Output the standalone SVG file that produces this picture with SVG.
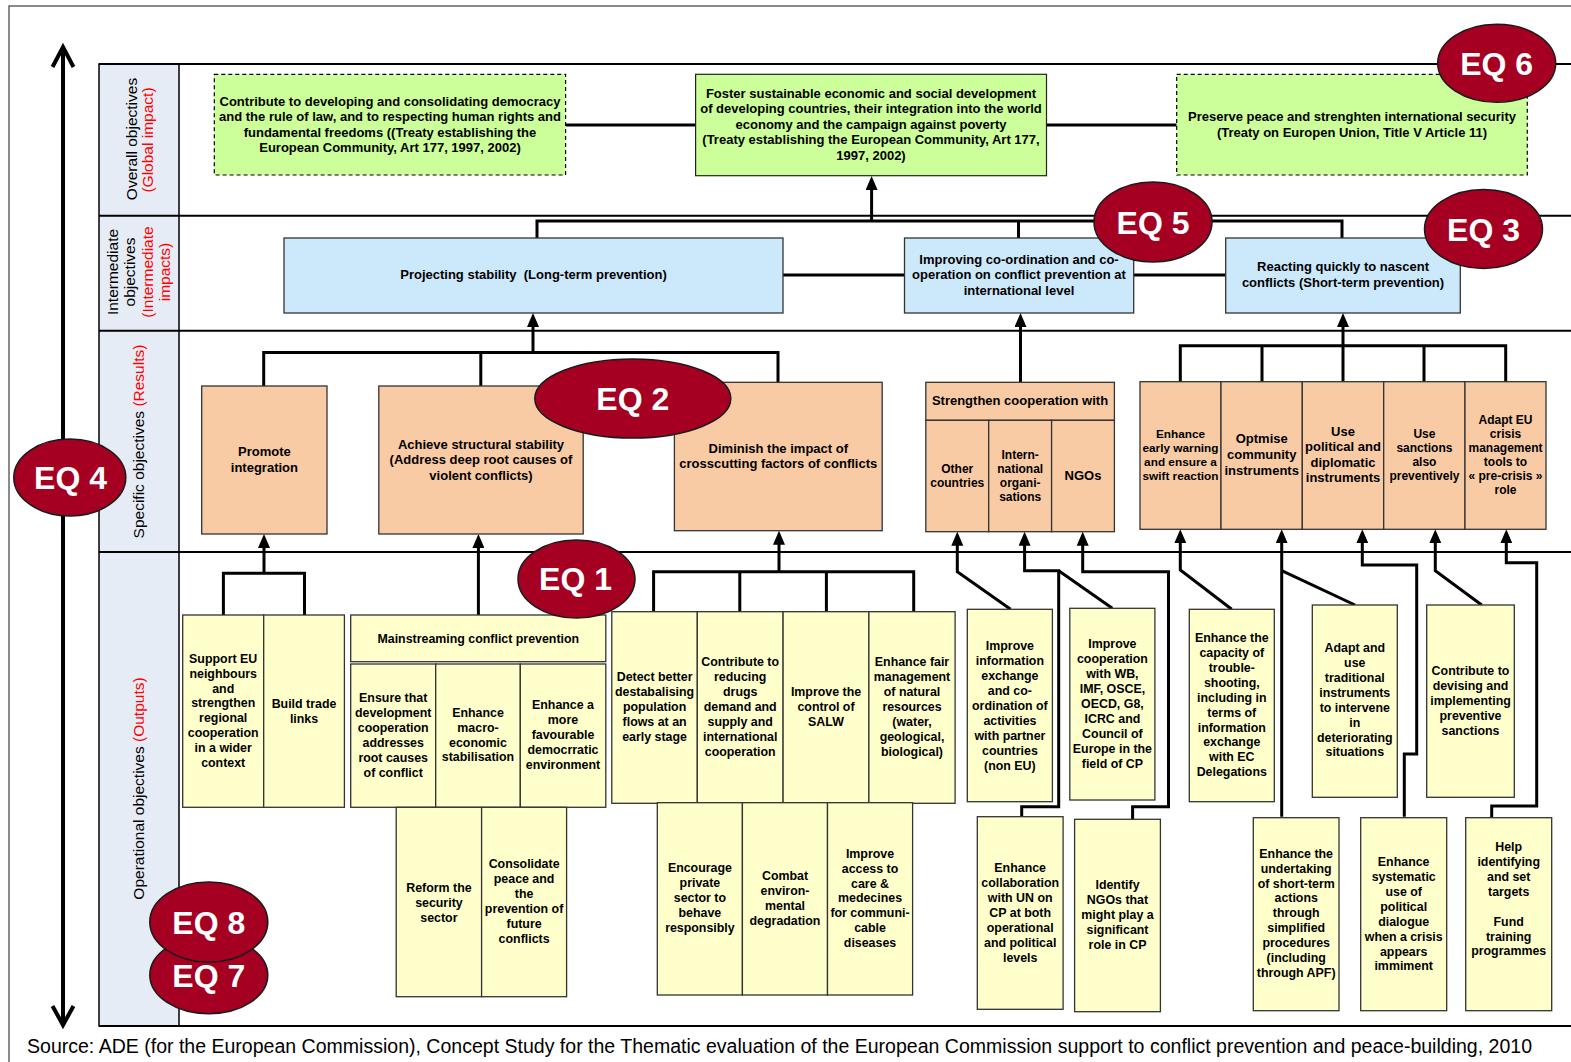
<svg xmlns="http://www.w3.org/2000/svg" width="1571" height="1062" viewBox="0 0 1571 1062">
<style>
  text { font-family: "Liberation Sans", Arial, sans-serif; fill: #000; }
  .b { font-weight: bold; font-size: 12.4px; text-anchor: middle; }
  .m { font-weight: bold; font-size: 13px; text-anchor: middle; }
  .s { font-weight: bold; font-size: 12px; text-anchor: middle; }
  .lab { font-size: 15.5px; text-anchor: middle; }
  .red { fill: #ff0000; }
  .row { stroke: #000; stroke-width: 2; fill: none; }
  .green { fill: #ccff99; stroke: #222; stroke-width: 1.2; }
  .dash { stroke: #000; stroke-dasharray: 4 3; }
  .blue { fill: #cce9fb; stroke: #333; stroke-width: 1.3; }
  .peach { fill: #f9cba5; stroke: #333; stroke-width: 1.3; }
  .yel { fill: #ffffcc; stroke: #333; stroke-width: 1.3; }
  .eq { fill: #a50021; stroke: #1a1a1a; stroke-width: 1.5; }
  .eqt { fill: #fff; font-weight: bold; font-size: 32px; text-anchor: middle; }
  .conn { fill: none; stroke: #000; stroke-width: 3; }
  .arr { fill: none; stroke: #000; stroke-width: 3; marker-end: url(#ah); }
</style>
<defs>
  <marker id="ah" viewBox="0 0 14 12" refX="4" refY="6" markerWidth="14" markerHeight="12" markerUnits="userSpaceOnUse" orient="auto">
    <path d="M0,0 L14,6 L0,12 z" fill="#000"/>
  </marker>
</defs>

<rect width="1571" height="1062" fill="#fff"/>

<!-- outer frame -->
<path d="M1580,6 H9 V1070" fill="none" stroke="#666" stroke-width="1.5"/>

<!-- level axis (double arrow) -->
<g id="axis">
  <path d="M63,50 V1022" stroke="#000" stroke-width="4" fill="none"/>
  <path d="M52.5,67 L63,47 L73.5,67" stroke="#000" stroke-width="4" fill="none" stroke-linejoin="miter"/>
  <path d="M52.5,1006 L63,1025 L73.5,1006" stroke="#000" stroke-width="4" fill="none"/>
</g>

<!-- level labels column and row separators -->
<g id="levels">
  <rect x="99" y="64" width="80" height="962" fill="#e6ecf6" stroke="#000" stroke-width="1.5"/>
  <path class="row" d="M99,64 H1575 M99,215.7 H1575 M99,330.7 H1575 M99,552 H1575 M99,1026 H1575"/>
  <text class="lab" transform="translate(137,139) rotate(-90)">Overall objectives</text>
  <text class="lab red" transform="translate(153,140) rotate(-90)">(Global impact)</text>
  <text class="lab" transform="translate(118,272) rotate(-90)">Intermediate</text>
  <text class="lab" transform="translate(135,272) rotate(-90)">objectives</text>
  <text class="lab red" transform="translate(153,272) rotate(-90)">(Intermediate</text>
  <text class="lab red" transform="translate(170,272) rotate(-90)">impacts)</text>
  <text class="lab" transform="translate(144,441.5) rotate(-90)">Specific objectives <tspan class="red">(Results)</tspan></text>
  <text class="lab" transform="translate(144,788.5) rotate(-90)">Operational objectives <tspan class="red">(Outputs)</tspan></text>
</g>

<!-- connectors -->
<g id="connectors">
  <!-- overall row -->
  <path class="conn" d="M565.6,125 H695.6 M1046.5,125 H1176.7"/>
  <path class="conn" d="M537,238 V221 H1342 V238 M1018.5,221 V238"/>
  <path class="arr" d="M871.6,221 V186"/>
  <!-- intermediate row -->
  <path class="conn" d="M783,275 H904.5 M1133.7,275 H1225.7"/>
  <!-- specific to intermediate -->
  <path class="conn" d="M263.7,386 V352.5 H778 V382.3 M480.8,352.5 V386"/>
  <path class="arr" d="M533,352.5 V323"/>
  <path class="arr" d="M1020.5,382.3 V323"/>
  <path class="conn" d="M1180.3,381.7 V345.7 H1505.7 V381.7 M1262,345.7 V381.7 M1424,345.7 V381.7"/>
  <path class="arr" d="M1343,381.7 V323"/>
  <!-- operational to specific -->
  <path class="conn" d="M223.4,615 V573.3 H304.5 V615"/>
  <path class="arr" d="M264,573.3 V544"/>
  <path class="arr" d="M478.4,615 V544"/>
  <path class="conn" d="M653.6,611.7 V571.7 H913.7 V611.7 M739.8,571.7 V611.7 M826.4,571.7 V611.7"/>
  <path class="arr" d="M779,571.7 V540.7"/>
  <path class="arr" d="M1010.6,609.3 L957.3,571.7 V541.7"/>
  <path class="conn" d="M1112.3,608.3 L1058.7,570.7"/>
  <path class="arr" d="M1021.7,816.7 V806.7 H1058.7 V570.7 H1024.6 V541.7"/>
  <path class="arr" d="M1132.6,819.3 V806.7 H1168.5 V571.7 H1082.7 V541.7"/>
  <path class="arr" d="M1231.7,609.3 L1180.3,570 V539.3"/>
  <path class="conn" d="M1355,605 L1281.7,570.7"/>
  <path class="arr" d="M1281.7,816.7 V539.3"/>
  <path class="arr" d="M1404.3,816.7 V754 H1416.7 V565 H1362.3 V539.3"/>
  <path class="arr" d="M1481.7,605 L1435.3,570.7 V539.3"/>
  <path class="arr" d="M1491.7,818.3 V806 H1536.7 V562.7 H1506.3 V539.3"/>
</g>

<!-- overall objectives -->
<g id="ov-democracy">
  <rect class="green dash" x="214.3" y="74.3" width="351.3" height="100.7"/>
  <text class="m" x="390" y="105.6"><tspan x="390">Contribute to developing and consolidating democracy</tspan><tspan x="390" dy="15.5">and the rule of law, and to respecting human rights and</tspan><tspan x="390" dy="15.5">fundamental freedoms ((Treaty establishing the</tspan><tspan x="390" dy="15.5">European Community, Art 177, 1997, 2002)</tspan></text>
</g>
<g id="ov-development">
  <rect class="green" x="695.6" y="74.3" width="350.9" height="101.4"/>
  <text class="m" x="871" y="97.9"><tspan x="871">Foster sustainable economic and social development</tspan><tspan x="871" dy="15.5">of developing countries, their integration into the world</tspan><tspan x="871" dy="15.5">economy and the campaign against poverty</tspan><tspan x="871" dy="15.5">(Treaty establishing the European Community, Art 177,</tspan><tspan x="871" dy="15.5">1997, 2002)</tspan></text>
</g>
<g id="ov-peace">
  <rect class="green dash" x="1176.7" y="74.3" width="350.6" height="100.7"/>
  <text class="m" x="1352" y="120.9"><tspan x="1352">Preserve peace and strenghten international security</tspan><tspan x="1352" dy="16">(Treaty on Europen Union, Title V Article 11)</tspan></text>
</g>

<!-- intermediate objectives -->
<g id="int-longterm">
  <rect class="blue" x="284" y="238" width="499" height="75"/>
  <text class="m" x="533.5" y="278.9">Projecting stability&#160; (Long-term prevention)</text>
</g>
<g id="int-coordination">
  <rect class="blue" x="904.5" y="238" width="229.2" height="75"/>
  <text class="m" x="1019" y="263.6"><tspan x="1019">Improving co-ordination and co-</tspan><tspan x="1019" dy="15.5">operation on conflict prevention at</tspan><tspan x="1019" dy="15.5">international level</tspan></text>
</g>
<g id="int-shortterm">
  <rect class="blue" x="1225.7" y="238" width="234.6" height="75"/>
  <text class="m" x="1343" y="271.3"><tspan x="1343">Reacting quickly to nascent</tspan><tspan x="1343" dy="15.6">conflicts (Short-term prevention)</tspan></text>
</g>

<!-- specific objectives -->
<g id="sp-integration">
  <rect class="peach" x="201.7" y="386" width="125.3" height="148"/>
  <text class="m" x="264.4" y="455.6"><tspan x="264.4">Promote</tspan><tspan x="264.4" dy="16">integration</tspan></text>
</g>
<g id="sp-structural">
  <rect class="peach" x="378.8" y="386" width="204.4" height="148"/>
  <text class="m" x="481" y="448.9"><tspan x="481">Achieve structural stability</tspan><tspan x="481" dy="15.5">(Address deep root causes of</tspan><tspan x="481" dy="15.5">violent conflicts)</tspan></text>
</g>
<g id="sp-crosscutting">
  <rect class="peach" x="674.4" y="382.3" width="207.8" height="148.4"/>
  <text class="m" x="778.3" y="452.9"><tspan x="778.3">Diminish the impact of</tspan><tspan x="778.3" dy="15">crosscutting factors of conflicts</tspan></text>
</g>
<g id="sp-cooperation">
  <rect class="peach" x="925.8" y="382.3" width="188.6" height="38"/>
  <rect class="peach" x="925.8" y="420.3" width="62.9" height="111.4"/>
  <rect class="peach" x="988.7" y="420.3" width="62.9" height="111.4"/>
  <rect class="peach" x="1051.6" y="420.3" width="62.8" height="111.4"/>
  <text class="m" x="1020" y="405.3">Strengthen cooperation with</text>
  <text class="s" x="957.3" y="472.6"><tspan x="957.3">Other</tspan><tspan x="957.3" dy="14.7">countries</tspan></text>
  <text class="s" x="1020.2" y="459.3"><tspan x="1020.2">Intern-</tspan><tspan x="1020.2" dy="13.8">national</tspan><tspan x="1020.2" dy="13.8">organi-</tspan><tspan x="1020.2" dy="13.8">sations</tspan></text>
  <text class="m" x="1083" y="480.3">NGOs</text>
</g>
<g id="sp-shortterm">
  <rect class="peach" x="1140" y="381.7" width="81" height="147.6"/>
  <rect class="peach" x="1221" y="381.7" width="81.3" height="147.6"/>
  <rect class="peach" x="1302.3" y="381.7" width="81.4" height="147.6"/>
  <rect class="peach" x="1383.7" y="381.7" width="81.3" height="147.6"/>
  <rect class="peach" x="1465" y="381.7" width="81" height="147.6"/>
  <text class="s" style="font-size:11.8px" x="1180.5" y="438"><tspan x="1180.5">Enhance</tspan><tspan x="1180.5" dy="14">early warning</tspan><tspan x="1180.5" dy="14">and ensure a</tspan><tspan x="1180.5" dy="14">swift reaction</tspan></text>
  <text class="m" x="1261.7" y="442.9"><tspan x="1261.7">Optmise</tspan><tspan x="1261.7" dy="15.9">community</tspan><tspan x="1261.7" dy="15.9">instruments</tspan></text>
  <text class="m" x="1343" y="435.6"><tspan x="1343">Use</tspan><tspan x="1343" dy="15.6">political and</tspan><tspan x="1343" dy="15.6">diplomatic</tspan><tspan x="1343" dy="15.6">instruments</tspan></text>
  <text class="s" x="1424.4" y="438"><tspan x="1424.4">Use</tspan><tspan x="1424.4" dy="14.1">sanctions</tspan><tspan x="1424.4" dy="14.1">also</tspan><tspan x="1424.4" dy="14.1">preventively</tspan></text>
  <text class="s" x="1505.5" y="423.6"><tspan x="1505.5">Adapt EU</tspan><tspan x="1505.5" dy="14.1">crisis</tspan><tspan x="1505.5" dy="14.1">management</tspan><tspan x="1505.5" dy="14.1">tools to</tspan><tspan x="1505.5" dy="14.1">« pre-crisis »</tspan><tspan x="1505.5" dy="14.1">role</tspan></text>
</g>

<!-- operational objectives -->
<g id="op-neighbours">
  <rect class="yel" x="182.7" y="615" width="81" height="192.3"/>
  <text class="b" x="223.2" y="662.7"><tspan x="223.2">Support EU</tspan><tspan x="223.2" dy="14.9">neighbours</tspan><tspan x="223.2" dy="14.9">and</tspan><tspan x="223.2" dy="14.9">strengthen</tspan><tspan x="223.2" dy="14.9">regional</tspan><tspan x="223.2" dy="14.9">cooperation</tspan><tspan x="223.2" dy="14.9">in a wider</tspan><tspan x="223.2" dy="14.9">context</tspan></text>
</g>
<g id="op-trade">
  <rect class="yel" x="263.7" y="615" width="80.7" height="192.3"/>
  <text class="b" x="304" y="707.7"><tspan x="304">Build trade</tspan><tspan x="304" dy="14.9">links</tspan></text>
</g>
<g id="op-mainstreaming">
  <rect class="yel" x="350.7" y="615" width="255.1" height="46.7"/>
  <text class="b" x="478.3" y="642.7">Mainstreaming conflict prevention</text>
</g>
<g id="op-development">
  <rect class="yel" x="350.7" y="664" width="85" height="143.3"/>
  <text class="b" x="393.2" y="702.1"><tspan x="393.2">Ensure that</tspan><tspan x="393.2" dy="14.9">development</tspan><tspan x="393.2" dy="14.9">cooperation</tspan><tspan x="393.2" dy="14.9">addresses</tspan><tspan x="393.2" dy="14.9">root causes</tspan><tspan x="393.2" dy="14.9">of conflict</tspan></text>
</g>
<g id="op-macro">
  <rect class="yel" x="435.7" y="664" width="84.6" height="143.3"/>
  <text class="b" x="478" y="716.7"><tspan x="478">Enhance</tspan><tspan x="478" dy="14.9">macro-</tspan><tspan x="478" dy="14.9">economic</tspan><tspan x="478" dy="14.9">stabilisation</tspan></text>
</g>
<g id="op-democratic">
  <rect class="yel" x="520.3" y="664" width="85.5" height="143.3"/>
  <text class="b" x="563" y="709.4"><tspan x="563">Enhance a</tspan><tspan x="563" dy="14.9">more</tspan><tspan x="563" dy="14.9">favourable</tspan><tspan x="563" dy="14.9">democrratic</tspan><tspan x="563" dy="14.9">environment</tspan></text>
</g>
<g id="op-security">
  <rect class="yel" x="396.2" y="807.3" width="85.4" height="189.4"/>
  <text class="b" x="438.9" y="891.7"><tspan x="438.9">Reform the</tspan><tspan x="438.9" dy="14.9">security</tspan><tspan x="438.9" dy="14.9">sector</tspan></text>
</g>
<g id="op-peace">
  <rect class="yel" x="481.6" y="807.3" width="85" height="189.4"/>
  <text class="b" x="524.1" y="868.4"><tspan x="524.1">Consolidate</tspan><tspan x="524.1" dy="14.9">peace and</tspan><tspan x="524.1" dy="14.9">the</tspan><tspan x="524.1" dy="14.9">prevention of</tspan><tspan x="524.1" dy="14.9">future</tspan><tspan x="524.1" dy="14.9">conflicts</tspan></text>
</g>
<g id="op-population">
  <rect class="yel" x="611.8" y="611.7" width="85.5" height="191.6"/>
  <text class="b" x="654.6" y="681.1"><tspan x="654.6">Detect better</tspan><tspan x="654.6" dy="14.9">destabalising</tspan><tspan x="654.6" dy="14.9">population</tspan><tspan x="654.6" dy="14.9">flows at an</tspan><tspan x="654.6" dy="14.9">early stage</tspan></text>
</g>
<g id="op-drugs">
  <rect class="yel" x="697.3" y="611.7" width="85.8" height="191.6"/>
  <text class="b" x="740.2" y="666.1"><tspan x="740.2">Contribute to</tspan><tspan x="740.2" dy="14.9">reducing</tspan><tspan x="740.2" dy="14.9">drugs</tspan><tspan x="740.2" dy="14.9">demand and</tspan><tspan x="740.2" dy="14.9">supply and</tspan><tspan x="740.2" dy="14.9">international</tspan><tspan x="740.2" dy="14.9">cooperation</tspan></text>
</g>
<g id="op-salw">
  <rect class="yel" x="783.1" y="611.7" width="85.8" height="191.6"/>
  <text class="b" x="826" y="696.1"><tspan x="826">Improve the</tspan><tspan x="826" dy="14.9">control of</tspan><tspan x="826" dy="14.9">SALW</tspan></text>
</g>
<g id="op-resources">
  <rect class="yel" x="868.9" y="611.7" width="86.2" height="191.6"/>
  <text class="b" x="912" y="666.1"><tspan x="912">Enhance fair</tspan><tspan x="912" dy="14.9">management</tspan><tspan x="912" dy="14.9">of natural</tspan><tspan x="912" dy="14.9">resources</tspan><tspan x="912" dy="14.9">(water,</tspan><tspan x="912" dy="14.9">geological,</tspan><tspan x="912" dy="14.9">biological)</tspan></text>
</g>
<g id="op-private">
  <rect class="yel" x="657.3" y="802.7" width="85.1" height="192.3"/>
  <text class="b" x="699.9" y="872.1"><tspan x="699.9">Encourage</tspan><tspan x="699.9" dy="14.9">private</tspan><tspan x="699.9" dy="14.9">sector to</tspan><tspan x="699.9" dy="14.9">behave</tspan><tspan x="699.9" dy="14.9">responsibly</tspan></text>
</g>
<g id="op-environment">
  <rect class="yel" x="742.4" y="802.7" width="85.1" height="192.3"/>
  <text class="b" x="785" y="880.4"><tspan x="785">Combat</tspan><tspan x="785" dy="14.9">environ-</tspan><tspan x="785" dy="14.9">mental</tspan><tspan x="785" dy="14.9">degradation</tspan></text>
</g>
<g id="op-health">
  <rect class="yel" x="827.5" y="802.7" width="85.1" height="192.3"/>
  <text class="b" x="870" y="857.7"><tspan x="870">Improve</tspan><tspan x="870" dy="14.9">access to</tspan><tspan x="870" dy="14.9">care &amp;</tspan><tspan x="870" dy="14.9">medecines</tspan><tspan x="870" dy="14.9">for communi-</tspan><tspan x="870" dy="14.9">cable</tspan><tspan x="870" dy="14.9">diseases</tspan></text>
</g>
<g id="op-information">
  <rect class="yel" x="967.3" y="609.3" width="85.1" height="192.4"/>
  <text class="b" x="1009.9" y="650.4"><tspan x="1009.9">Improve</tspan><tspan x="1009.9" dy="14.9">information</tspan><tspan x="1009.9" dy="14.9">exchange</tspan><tspan x="1009.9" dy="14.9">and co-</tspan><tspan x="1009.9" dy="14.9">ordination of</tspan><tspan x="1009.9" dy="14.9">activities</tspan><tspan x="1009.9" dy="14.9">with partner</tspan><tspan x="1009.9" dy="14.9">countries</tspan><tspan x="1009.9" dy="14.9">(non EU)</tspan></text>
</g>
<g id="op-organisations">
  <rect class="yel" x="1069.8" y="608.3" width="85.1" height="191.7"/>
  <text class="b" x="1112.4" y="648.4"><tspan x="1112.4">Improve</tspan><tspan x="1112.4" dy="14.9">cooperation</tspan><tspan x="1112.4" dy="14.9">with WB,</tspan><tspan x="1112.4" dy="14.9">IMF, OSCE,</tspan><tspan x="1112.4" dy="14.9">OECD, G8,</tspan><tspan x="1112.4" dy="14.9">ICRC and</tspan><tspan x="1112.4" dy="14.9">Council of</tspan><tspan x="1112.4" dy="14.9">Europe in the</tspan><tspan x="1112.4" dy="14.9">field of CP</tspan></text>
</g>
<g id="op-un">
  <rect class="yel" x="977.3" y="816.7" width="85.8" height="192.6"/>
  <text class="b" x="1020.2" y="872.1"><tspan x="1020.2">Enhance</tspan><tspan x="1020.2" dy="14.9">collaboration</tspan><tspan x="1020.2" dy="14.9">with UN on</tspan><tspan x="1020.2" dy="14.9">CP at both</tspan><tspan x="1020.2" dy="14.9">operational</tspan><tspan x="1020.2" dy="14.9">and political</tspan><tspan x="1020.2" dy="14.9">levels</tspan></text>
</g>
<g id="op-ngos">
  <rect class="yel" x="1074.6" y="819.3" width="85.8" height="192.4"/>
  <text class="b" x="1117.5" y="889.4"><tspan x="1117.5">Identify</tspan><tspan x="1117.5" dy="14.9">NGOs that</tspan><tspan x="1117.5" dy="14.9">might play a</tspan><tspan x="1117.5" dy="14.9">significant</tspan><tspan x="1117.5" dy="14.9">role in CP</tspan></text>
</g>
<g id="op-troubleshooting">
  <rect class="yel" x="1189.3" y="609.3" width="85" height="192.4"/>
  <text class="b" x="1231.8" y="642.1"><tspan x="1231.8">Enhance the</tspan><tspan x="1231.8" dy="14.9">capacity of</tspan><tspan x="1231.8" dy="14.9">trouble-</tspan><tspan x="1231.8" dy="14.9">shooting,</tspan><tspan x="1231.8" dy="14.9">including in</tspan><tspan x="1231.8" dy="14.9">terms of</tspan><tspan x="1231.8" dy="14.9">information</tspan><tspan x="1231.8" dy="14.9">exchange</tspan><tspan x="1231.8" dy="14.9">with EC</tspan><tspan x="1231.8" dy="14.9">Delegations</tspan></text>
</g>
<g id="op-traditional">
  <rect class="yel" x="1312.3" y="605" width="85" height="192.3"/>
  <text class="b" x="1354.8" y="652.1"><tspan x="1354.8">Adapt and</tspan><tspan x="1354.8" dy="14.9">use</tspan><tspan x="1354.8" dy="14.9">traditional</tspan><tspan x="1354.8" dy="14.9">instruments</tspan><tspan x="1354.8" dy="14.9">to intervene</tspan><tspan x="1354.8" dy="14.9">in</tspan><tspan x="1354.8" dy="14.9">deteriorating</tspan><tspan x="1354.8" dy="14.9">situations</tspan></text>
</g>
<g id="op-sanctions">
  <rect class="yel" x="1426.7" y="605" width="87.6" height="192.3"/>
  <text class="b" x="1470.5" y="675.4"><tspan x="1470.5">Contribute to</tspan><tspan x="1470.5" dy="14.9">devising and</tspan><tspan x="1470.5" dy="14.9">implementing</tspan><tspan x="1470.5" dy="14.9">preventive</tspan><tspan x="1470.5" dy="14.9">sanctions</tspan></text>
</g>
<g id="op-shortterm">
  <rect class="yel" x="1253.3" y="817.7" width="85.7" height="193"/>
  <text class="b" x="1296.2" y="857.7"><tspan x="1296.2">Enhance the</tspan><tspan x="1296.2" dy="14.9">undertaking</tspan><tspan x="1296.2" dy="14.9">of short-term</tspan><tspan x="1296.2" dy="14.9">actions</tspan><tspan x="1296.2" dy="14.9">through</tspan><tspan x="1296.2" dy="14.9">simplified</tspan><tspan x="1296.2" dy="14.9">procedures</tspan><tspan x="1296.2" dy="14.9">(including</tspan><tspan x="1296.2" dy="14.9">through APF)</tspan></text>
</g>
<g id="op-dialogue">
  <rect class="yel" x="1360.7" y="817.7" width="86" height="193"/>
  <text class="b" x="1403.7" y="866.1"><tspan x="1403.7">Enhance</tspan><tspan x="1403.7" dy="14.9">systematic</tspan><tspan x="1403.7" dy="14.9">use of</tspan><tspan x="1403.7" dy="14.9">political</tspan><tspan x="1403.7" dy="14.9">dialogue</tspan><tspan x="1403.7" dy="14.9">when a crisis</tspan><tspan x="1403.7" dy="14.9">appears</tspan><tspan x="1403.7" dy="14.9">immiment</tspan></text>
</g>
<g id="op-targets">
  <rect class="yel" x="1465.7" y="817.7" width="86" height="193"/>
  <text class="b" x="1508.7" y="851.1"><tspan x="1508.7">Help</tspan><tspan x="1508.7" dy="14.9">identifying</tspan><tspan x="1508.7" dy="14.9">and set</tspan><tspan x="1508.7" dy="14.9">targets</tspan><tspan x="1508.7" dy="29.8">Fund</tspan><tspan x="1508.7" dy="14.9">training</tspan><tspan x="1508.7" dy="14.9">programmes</tspan></text>
</g>

<!-- evaluation question markers -->
<g id="eq6"><ellipse class="eq" cx="1496.7" cy="63.3" rx="59" ry="39"/><text class="eqt" x="1496.7" y="74.8">EQ 6</text></g>
<g id="eq5"><ellipse class="eq" cx="1153" cy="222" rx="59" ry="40"/><text class="eqt" x="1153" y="233.5">EQ 5</text></g>
<g id="eq3"><ellipse class="eq" cx="1483.5" cy="229" rx="59" ry="39.5"/><text class="eqt" x="1483.5" y="240.5">EQ 3</text></g>
<g id="eq2"><ellipse class="eq" cx="632.8" cy="398.5" rx="98" ry="39.5"/><text class="eqt" x="632.8" y="410">EQ 2</text></g>
<g id="eq4"><ellipse class="eq" cx="69.8" cy="477.5" rx="56" ry="38.5"/><text class="eqt" x="70.5" y="489">EQ 4</text></g>
<g id="eq1"><ellipse class="eq" cx="576.5" cy="579" rx="58.5" ry="39"/><text class="eqt" x="575.5" y="590">EQ 1</text></g>
<g id="eq7"><ellipse class="eq" cx="208.8" cy="975" rx="59" ry="38.7"/><text class="eqt" x="208.8" y="986.5">EQ 7</text></g>
<g id="eq8"><ellipse class="eq" cx="208.8" cy="922" rx="59" ry="40"/><text class="eqt" x="208.8" y="933.5">EQ 8</text></g>

<!-- source line -->
<text x="27" y="1053" font-size="19.5" fill="#111" textLength="1505" lengthAdjust="spacingAndGlyphs">Source: ADE (for the European Commission), Concept Study for the Thematic evaluation of the European Commission support to conflict prevention and peace-building, 2010</text>
</svg>
